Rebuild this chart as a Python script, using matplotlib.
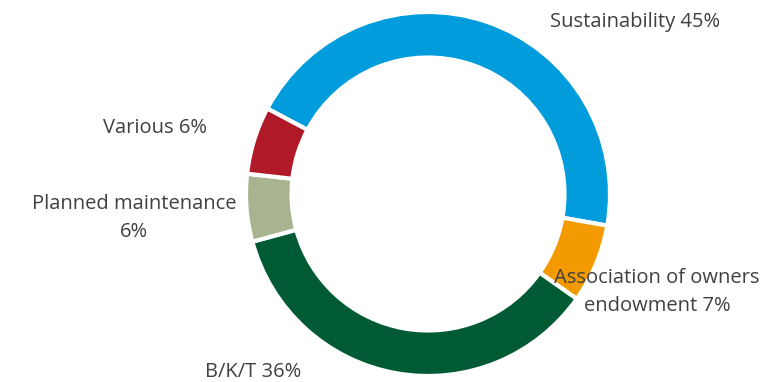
import matplotlib
matplotlib.use("Agg")
import matplotlib.pyplot as plt

labels = ["Sustainability 45%", "Association of owners\nendowment 7%", "B/K/T 36%",
          "Planned maintenance\n6%", "Various 6%"]
shares = [45, 7, 36, 6, 6]
colors = ["#009cdc", "#f39a00", "#005b35", "#a8b48f", "#b01a28"]

W, H = 784, 382
fig = plt.figure(figsize=(W / 100, H / 100), dpi=100)

# donut centred at (428, 194) px, outer radius 182 px
cx, cy, r = 428, 194, 182
ax = fig.add_axes([(cx - r) / W, (H - cy - r) / H, 2 * r / W, 2 * r / H])
ax.pie(shares, colors=colors, startangle=152, counterclock=False, radius=1,
       wedgeprops=dict(width=0.25, edgecolor="white", linewidth=3))
ax.set_xlim(-1, 1)
ax.set_ylim(-1, 1)
ax.set_aspect("equal")
ax.axis("off")

# label positions in pixels (centre of text)
label_pos = [(635, 22), (657, 292), (253, 372), (134, 218), (155, 128)]
for text, (px, py) in zip(labels, label_pos):
    fig.text(px / W, 1 - py / H, text, ha="center", va="center",
             fontsize=14.5, color="#404040", family="Open Sans", linespacing=1.5)

fig.savefig("out.png", dpi=100)
